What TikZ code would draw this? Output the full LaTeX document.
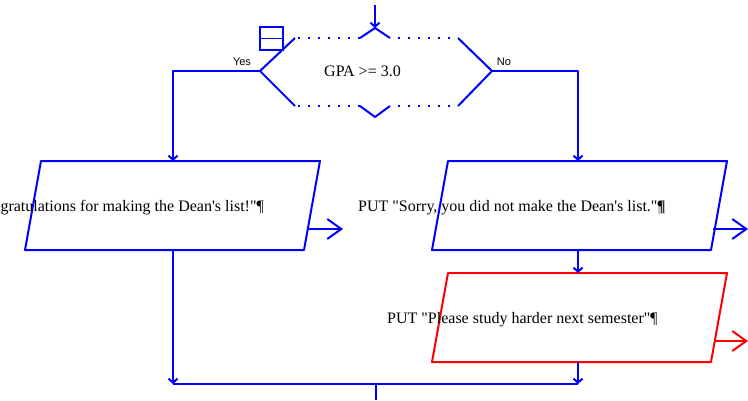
\documentclass[tikz,border=0pt]{standalone}
\usepackage{fontspec}
\setmainfont{Liberation Serif}[Ligatures=TeXOff]
\newfontfamily\labelfont{Liberation Sans}
\usetikzlibrary{arrows.meta}
\begin{document}
\begin{tikzpicture}[x=1pt,y=-1pt,
  flow/.style={draw=blue, line width=2pt, line join=round},
  redflow/.style={draw=red, line width=2pt, line join=round},
  dotline/.style={draw=blue, line width=2pt, dash pattern=on 2pt off 8pt},
  smalltip/.style={-{Straight Barb[length=4pt,width=9pt]}},
  bigtip/.style={-{Straight Barb[length=14pt,width=20pt]}},
  txt/.style={font=\fontsize{16}{18}\selectfont, inner sep=0pt},
  lbl/.style={font=\labelfont\fontsize{11}{12}\selectfont, inner sep=0pt}]
\useasboundingbox (0,0) rectangle (748,400);
\clip (0,0) rectangle (748,400);

% coordinates
\coordinate (entry) at (375,5);
\coordinate (dT) at (375,28);
\coordinate (dB) at (375,117);
\coordinate (dL) at (260,71);
\coordinate (dR) at (492,71);
\coordinate (ltop) at (173,161);
\coordinate (lbot) at (173,250);
\coordinate (rtop) at (578,161);
\coordinate (rbot) at (578,250);
\coordinate (qtop) at (578,273);
\coordinate (qbot) at (578,362);
\coordinate (jl) at (173,384);
\coordinate (jr) at (578,384);
\coordinate (jm) at (376,384);
\coordinate (exit) at (376,400);
\coordinate (lout) at (308,229);
\coordinate (loutend) at (343,229);
\coordinate (rout) at (713,229);
\coordinate (routend) at (748,229);
\coordinate (qout) at (715,341);
\coordinate (qoutend) at (748,341);

% decision hexagon
\draw[flow] (dL) -- (295,38);
\draw[dotline] (298,38) -- (360,38);
\draw[flow] (360,38) -- (dT) -- (390,38);
\draw[dotline] (398,38) -- (458,38);
\draw[flow] (458,38) -- (dR);
\draw[flow] (dL) -- (295,106);
\draw[dotline] (298,106) -- (360,106);
\draw[flow] (360,106) -- (dB) -- (390,106);
\draw[dotline] (398,106) -- (458,106);
\draw[flow] (458,106) -- (dR);
\node[txt] (cond) at (362.5,71) {GPA >= 3.0};

% icon
\draw[blue, line width=1.6pt] (260,27) rectangle (283,50);
\draw[blue, line width=1.6pt] (260,38.5) -- (283,38.5);

\node[lbl] (yes) at (242,62) {Yes};
\node[lbl] (no) at (504,62) {No};

% parallelograms
\draw[flow] (41,161) -- (320,161) -- (304,250) -- (25,250) -- cycle;
\draw[flow] (448,161) -- (727,161) -- (711,250) -- (432,250) -- cycle;
\draw[redflow] (448,273) -- (727,273) -- (711,362) -- (432,362) -- cycle;

\node[txt, anchor=east] (t1) at (264,208) {PUT "Congratulations for making the Dean's list!"¶};
\node[txt, anchor=west] (t2) at (358,208) {PUT "Sorry, you did not make the Dean's list."{\fboxsep=0pt\colorbox{gray!45}{¶}}};
\node[txt, anchor=west] (t3) at (387,320) {PUT "Please study harder next semester"¶};

% connectors
\draw[flow, smalltip] (entry) -- (dT);
\draw[flow, smalltip] (dL) -- (173,71) -- (ltop);
\draw[flow, smalltip] (dR) -- (578,71) -- (rtop);
\draw[flow, smalltip] (rbot) -- (qtop);
\draw[flow, smalltip] (qbot) -- (jr);
\draw[flow, smalltip] (lbot) -- (jl);
\draw[flow] (jl) -- (jr);
\draw[flow] (jm) -- (exit);
\draw[flow, bigtip] (lout) -- (loutend);
\draw[flow, bigtip] (rout) -- (routend);
\draw[redflow, bigtip] (qout) -- (qoutend);
\end{tikzpicture}
\end{document}
